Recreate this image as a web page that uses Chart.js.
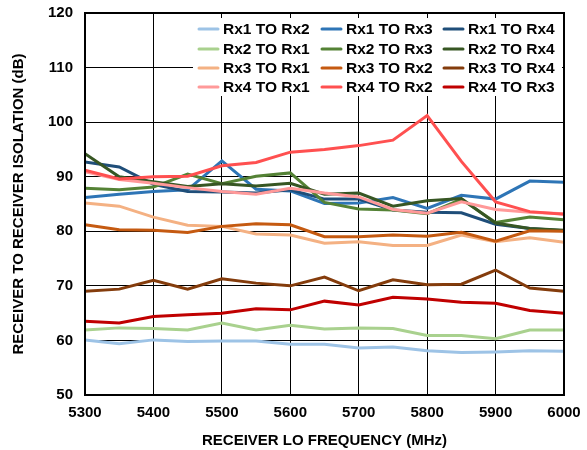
<!DOCTYPE html>
<html>
<head>
<meta charset="utf-8">
<script src="https://cdn.jsdelivr.net/npm/chart.js@4.4.1/dist/chart.umd.min.js"></script>
<style>
  html, body { margin: 0; padding: 0; background: #fff; }
  #wrap { width: 587px; height: 450px; }
</style>
</head>
<body>
<div id="wrap"><canvas id="isoChart" width="587" height="450"></canvas></div>
<script>
// LO frequency points (MHz)
const freqs = [5300, 5350, 5400, 5450, 5500, 5550, 5600, 5650, 5700, 5750, 5800, 5850, 5900, 5950, 6000];

// isolation values (dB)
const rx1ToRx2 = [60.1, 59.4, 60.1, 59.8, 59.9, 59.9, 59.3, 59.3, 58.6, 58.8, 58.1, 57.8, 57.9, 58.1, 58.0];
const rx1ToRx3 = [86.2, 86.8, 87.3, 87.6, 92.9, 87.7, 87.4, 85.1, 85.2, 86.2, 84.2, 86.6, 85.9, 89.2, 89.0];
const rx1ToRx4 = [92.7, 91.8, 88.6, 87.3, 87.2, 87.0, 87.6, 85.9, 85.9, 83.9, 83.5, 83.4, 81.3, 80.5, 80.1];
const rx2ToRx1 = [61.9, 62.3, 62.2, 61.9, 63.2, 61.9, 62.8, 62.1, 62.3, 62.2, 60.9, 60.9, 60.3, 61.9, 61.9];
const rx2ToRx3 = [87.9, 87.6, 88.1, 90.5, 88.7, 90.1, 90.7, 85.3, 84.1, 83.9, 83.2, 85.9, 81.6, 82.6, 82.1];
const rx2ToRx4 = [94.2, 90.0, 89.1, 88.2, 88.7, 88.3, 88.8, 86.8, 87.0, 84.6, 85.6, 86.0, 81.5, 80.5, 80.2];
const rx3ToRx1 = [85.2, 84.6, 82.6, 81.1, 80.9, 79.5, 79.3, 77.8, 78.1, 77.4, 77.4, 79.3, 78.1, 78.8, 78.0];
const rx3ToRx2 = [81.2, 80.3, 80.2, 79.8, 80.9, 81.4, 81.2, 79.0, 79.0, 79.3, 79.1, 79.8, 78.2, 80.1, 80.0];
const rx3ToRx4 = [69.0, 69.4, 71.0, 69.4, 71.3, 70.5, 70.0, 71.6, 69.1, 71.1, 70.2, 70.3, 72.9, 69.6, 69.0];
const rx4ToRx1 = [90.9, 89.5, 88.8, 88.0, 87.3, 86.8, 87.9, 87.0, 86.3, 84.0, 83.3, 85.4, 84.0, 83.5, 83.2];
const rx4ToRx2 = [91.2, 89.6, 90.0, 90.1, 92.0, 92.6, 94.5, 95.0, 95.7, 96.7, 101.2, 92.8, 85.4, 83.6, 83.1];
const rx4ToRx3 = [63.5, 63.2, 64.4, 64.7, 65.0, 65.8, 65.6, 67.2, 66.5, 67.9, 67.6, 67.0, 66.8, 65.5, 65.0];

const seriesNames = [
  'Rx1 TO Rx2', 'Rx1 TO Rx3', 'Rx1 TO Rx4',
  'Rx2 TO Rx1', 'Rx2 TO Rx3', 'Rx2 TO Rx4',
  'Rx3 TO Rx1', 'Rx3 TO Rx2', 'Rx3 TO Rx4',
  'Rx4 TO Rx1', 'Rx4 TO Rx2', 'Rx4 TO Rx3'
];
const seriesData = [
  rx1ToRx2, rx1ToRx3, rx1ToRx4,
  rx2ToRx1, rx2ToRx3, rx2ToRx4,
  rx3ToRx1, rx3ToRx2, rx3ToRx4,
  rx4ToRx1, rx4ToRx2, rx4ToRx3
];
const seriesColors = [
  '#9dc3e6', '#2e75b6', '#1f4e79',
  '#a9d18e', '#548235', '#375623',
  '#f4b183', '#c55a11', '#843c0c',
  '#ff9999', '#ff5050', '#c00000'
];

const FONT = '"Liberation Sans", Arial, sans-serif';

// draws the thick frame round the plot and the boxed legend in the top right
const frameAndLegend = {
  id: 'frameAndLegend',
  afterDatasetsDraw(chart) {
    const { ctx, chartArea: a } = chart;
    ctx.save();

    // legend box
    const boxL = 193, boxT = a.top + 5, boxR = a.right - 2, boxB = a.top + 83;
    ctx.fillStyle = '#fff';
    ctx.fillRect(boxL, boxT, boxR - boxL, boxB - boxT);

    const colX = [198, 321, 443];
    const rowY = [29, 49, 68, 87];
    ctx.font = 'bold 15.5px ' + FONT;
    ctx.textBaseline = 'middle';
    ctx.lineCap = 'round';
    seriesNames.forEach((name, i) => {
      const cx = colX[i % 3];
      const cy = rowY[Math.floor(i / 3)];
      ctx.strokeStyle = seriesColors[i];
      ctx.lineWidth = 3;
      ctx.beginPath();
      ctx.moveTo(cx + 1, cy);
      ctx.lineTo(cx + 20, cy);
      ctx.stroke();
      ctx.fillStyle = '#000';
      ctx.fillText(name, cx + 25, cy + 1);
    });

    // frame
    ctx.strokeStyle = '#000';
    ctx.lineWidth = 2;
    ctx.strokeRect(a.left, a.top, a.right - a.left, a.bottom - a.top);
    ctx.restore();
  }
};

const ctx = document.getElementById('isoChart').getContext('2d');
new Chart(ctx, {
  type: 'line',
  data: {
    datasets: seriesNames.map((name, i) => ({
      label: name,
      data: freqs.map((f, j) => ({ x: f, y: seriesData[i][j] })),
      borderColor: seriesColors[i],
      backgroundColor: seriesColors[i],
      borderWidth: 3,
      pointRadius: 0,
      tension: 0,
      order: seriesNames.length - i
    }))
  },
  options: {
    responsive: false,
    animation: false,
    layout: { padding: { top: 13, right: 23, left: 0, bottom: 0 } },
    plugins: {
      legend: { display: false },
      tooltip: { enabled: false }
    },
    scales: {
      x: {
        type: 'linear',
        min: 5300,
        max: 6000,
        ticks: {
          stepSize: 100,
          color: '#000',
          padding: 9,
          font: { family: FONT, size: 15, weight: 'bold' },
          callback: v => String(v)
        },
        grid: { color: '#000', lineWidth: 1, drawTicks: false },
        border: { display: false },
        title: {
          display: true,
          text: 'RECEIVER LO FREQUENCY (MHz)',
          color: '#000',
          font: { family: FONT, size: 15, weight: 'bold' },
          padding: { top: 4, bottom: 0 }
        },
        afterFit(scale) {
          scale.height = 55;
          scale.paddingLeft = 0;
          scale.paddingRight = 0;
        }
      },
      y: {
        min: 50,
        max: 120,
        ticks: {
          stepSize: 10,
          color: '#000',
          padding: 12,
          font: { family: FONT, size: 15, weight: 'bold' }
        },
        grid: { color: '#000', lineWidth: 1, drawTicks: false },
        border: { display: false },
        title: {
          display: true,
          text: 'RECEIVER TO RECEIVER ISOLATION (dB)',
          color: '#000',
          font: { family: FONT, size: 15, weight: 'bold' },
          padding: { top: 10, bottom: 0 }
        },
        afterFit(scale) {
          scale.width = 85;
          scale.paddingTop = 0;
          scale.paddingBottom = 0;
        }
      }
    }
  },
  plugins: [frameAndLegend]
});
</script>
</body>
</html>
